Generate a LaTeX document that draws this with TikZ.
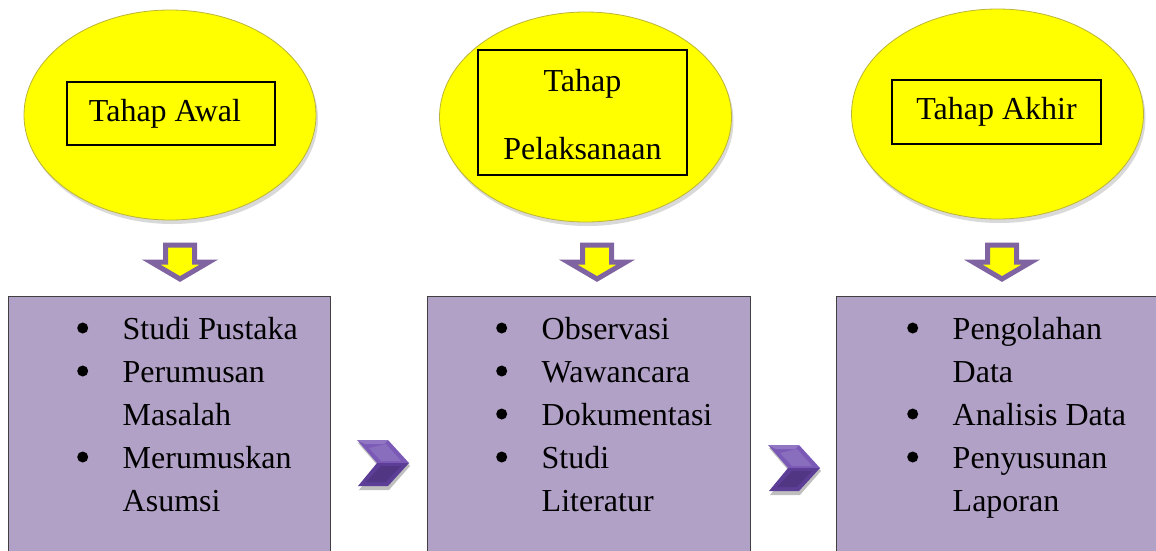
\documentclass[tikz,border=0pt]{standalone}
\usepackage{fontspec}
\setmainfont{Liberation Serif}
\usetikzlibrary{shapes.geometric,shadows}

\definecolor{stageyellow}{RGB}{255,255,0}
\definecolor{boxpurple}{RGB}{178,161,199}
\definecolor{arrowpurple}{RGB}{128,100,162}
\definecolor{chevlight}{RGB}{122,90,182}
\definecolor{chevdark}{RGB}{92,62,150}

\newcommand\bdot{\tikz[baseline=0pt]\fill (0pt,11pt) circle (5.5pt);}
\newcommand\bitem{\makebox[47pt][l]{\hspace*{1.5pt}\bdot}}
\newcommand\bcont{\hspace*{47pt}}

\begin{document}
\begin{tikzpicture}[
    x=1pt, y=-1pt,
    stage/.style={ellipse, fill=stageyellow, draw=yellow!70!black, line width=0.8,
        minimum width=292, minimum height=210, inner sep=0,
        drop shadow={shadow xshift=2pt, shadow yshift=-4pt, opacity=0.3}},
    title/.style={rectangle, draw=black, line width=1.1, align=center, inner sep=0,
        font=\fontsize{32}{38}\selectfont},
    listbox/.style={rectangle, draw=black!75, line width=1.1, fill=boxpurple,
        anchor=north west, minimum height=280},
    items/.style={anchor=base west, align=left, inner sep=0,
        font=\fontsize{32}{43}\selectfont},
    downarrow/.pic={
        \draw[draw=arrowpurple, fill=stageyellow, line width=5]
            (-14.5,0) -- (14.5,0) -- (14.5,17) -- (29,17) -- (0,34)
            -- (-29,17) -- (-14.5,17) -- cycle;
    },
    chevron/.pic={
        \fill[black, opacity=0.25] (1,3) -- (32,3) -- (53,26) -- (32,50) -- (2,50) -- (21,26) -- cycle;
        \fill[chevlight] (0,0) -- (31,0) -- (52,23) -- (20,23) -- cycle;
        \fill[chevdark] (20,23) -- (52,23) -- (31,46) -- (1,46) -- cycle;
        \fill[white, opacity=0.18] (0,0) -- (31,0) -- (27,4) -- (8,4) -- cycle;
        \fill[white, opacity=0.12] (29,4) -- (44,21) -- (24,21) -- (12,8) -- cycle;
        \fill[black, opacity=0.12] (24,26) -- (44,26) -- (29,42) -- (9,42) -- cycle;
    }
]
\useasboundingbox (0,0) rectangle (1156,550);
\clip (0,0) rectangle (1156,550);

% Top row: the three stages
\node[stage] (e1) at (170,115) {};
\node[stage] (e2) at (585.5,117) {};
\node[stage] (e3) at (997.5,114) {};

\node[title, minimum width=208, minimum height=63] (t1) at (171,113.5) {Tahap Awal\hspace*{12pt}};
\node[title, minimum width=209, minimum height=125] (t2) at (582.5,112.5) {\rule{0pt}{27pt}Tahap\\[30pt]Pelaksanaan};
\node[title, minimum width=209, minimum height=64] (t3) at (996.5,112) {Tahap Akhir};

% Arrows down to the activities
\pic at (180,245) {downarrow};
\pic at (597,245) {downarrow};
\pic at (1002,245) {downarrow};

% Bottom row: activities of each stage
\node[listbox, minimum width=322] (b1) at (8,296) {};
\node[listbox, minimum width=323] (b2) at (427,296) {};
\node[listbox, minimum width=330] (b3) at (836,296) {};

\node[items] (l1) at (75.5,511) {\bitem Studi Pustaka\\ \bitem Perumusan\\ \bcont Masalah\\ \bitem Merumuskan\\ \bcont Asumsi};
\node[items] (l2) at (494.5,511) {\bitem Observasi\\ \bitem Wawancara\\ \bitem Dokumentasi\\ \bitem Studi\\ \bcont Literatur};
\node[items] (l3) at (905.5,511) {\bitem Pengolahan\\ \bcont Data\\ \bitem Analisis Data\\ \bitem Penyusunan\\ \bcont Laporan};

% Chevrons between the boxes
\pic at (357,440) {chevron};
\pic at (768,445) {chevron};

\end{tikzpicture}
\end{document}
